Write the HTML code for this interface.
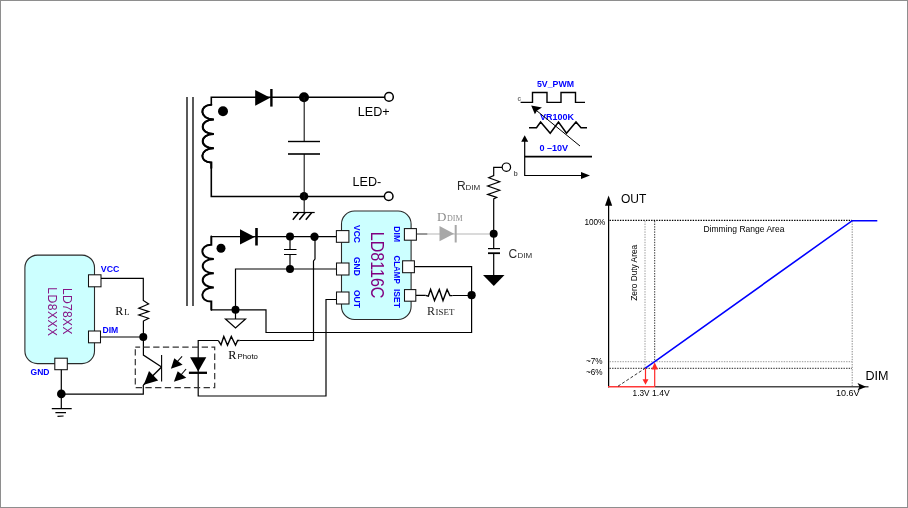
<!DOCTYPE html>
<html>
<head>
<meta charset="utf-8">
<title>LD8116C Dimming Application</title>
<style>
html,body{margin:0;padding:0;background:#fff;}
body{width:908px;height:508px;overflow:hidden;}
svg{display:block;will-change:transform;}
text{font-family:"Liberation Sans",Arial,sans-serif;}
.ser{font-family:"Liberation Serif","Times New Roman",serif;}
.w{stroke:#000;stroke-width:1.2;fill:none;}
.wt{stroke:#000;stroke-width:1.6;fill:none;}
.wc{stroke:#000;stroke-width:2;fill:none;stroke-linecap:round;}
.pin{fill:#fff;stroke:#111;stroke-width:1.05;}
.blue{fill:#0000ff;font-weight:bold;}
</style>
</head>
<body>
<svg width="908" height="508" viewBox="0 0 908 508">
<rect x="0" y="0" width="908" height="508" fill="#fff"/>
<rect x="0.5" y="0.5" width="907" height="507" fill="none" stroke="#8e8e8e" stroke-width="1"/>

<!-- ===== transformer core ===== -->
<g id="core">
<line x1="187" y1="97" x2="187" y2="306" stroke="#000" stroke-width="1.3"/>
<line x1="193" y1="97" x2="193" y2="306" stroke="#000" stroke-width="1.3"/>
</g>

<!-- ===== top secondary ===== -->
<g id="sec-top">
<path class="wt" d="M388,97.2 H211.3 V104.8 C199,104.8 199,119.5 213.9,119.5 C199,119.5 199,134 213.9,134 C199,134 199,148.3 213.9,148.3 C199,148.3 199,162.6 211.3,162.6 V196.5 H388"/>
<path class="wc" d="M211.3,104.8 C199,104.8 199,119.5 213.9,119.5 C199,119.5 199,134 213.9,134 C199,134 199,148.3 213.9,148.3 C199,148.3 199,162.6 211.3,162.6 V168"/>
<circle cx="223" cy="111.3" r="5" fill="#000"/>
<polygon points="255.2,90 255.2,105.7 270.2,97.8" fill="#000"/>
<line x1="271.4" y1="89" x2="271.4" y2="106.6" stroke="#000" stroke-width="2.4"/>
<circle cx="304" cy="97.3" r="5" fill="#000"/>
<circle cx="304" cy="196.3" r="4.3" fill="#000"/>
<line x1="304.2" y1="97" x2="304.2" y2="141.5" stroke="#111" stroke-width="1.1"/>
<line x1="304.2" y1="154" x2="304.2" y2="212.5" stroke="#111" stroke-width="1.1"/>
<line x1="288" y1="141.5" x2="320" y2="141.5" stroke="#000" stroke-width="1.4"/>
<line x1="288" y1="154" x2="320" y2="154" stroke="#000" stroke-width="1.6"/>
<circle cx="389" cy="96.9" r="4.3" fill="#fff" stroke="#000" stroke-width="1.5"/>
<circle cx="388.7" cy="196.3" r="4.3" fill="#fff" stroke="#000" stroke-width="1.5"/>
<text x="357.8" y="115.6" font-size="12.6">LED+</text>
<text x="352.6" y="186.3" font-size="12.6">LED-</text>
<!-- chassis ground -->
<path d="M293,212.5 H314.7" stroke="#000" stroke-width="1.2" fill="none"/><path d="M298.8,212.5 L292.8,219.7 M305.3,212.5 L299.3,219.7 M311.8,212.5 L305.8,219.7" stroke="#000" stroke-width="1.5" fill="none"/>
</g>

<!-- ===== lower secondary ===== -->
<g id="sec-low">
<path class="wc" d="M211.3,236.5 V244.8 C199,244.8 199,259 213.9,259 C199,259 199,273.2 213.9,273.2 C199,273.2 199,287.4 213.9,287.4 C199,287.4 199,301.6 211.3,301.6 V309.8"/>
<path class="w" d="M211,236.7 H336"/>
<circle cx="221" cy="248.3" r="4.5" fill="#000"/>
<polygon points="240,229.3 240,244.5 254.8,236.9" fill="#000"/>
<line x1="256.5" y1="228" x2="256.5" y2="245.5" stroke="#000" stroke-width="2.6"/>
<circle cx="290" cy="236.5" r="4" fill="#000"/>
<circle cx="314.5" cy="236.7" r="4.2" fill="#000"/>
<circle cx="290" cy="269" r="4" fill="#000"/>
<path class="w" d="M290,236.5 V249.5 M290,254.5 V269 M284,249.5 H296.5 M284,254.5 H296.5"/>
<!-- GND net -->
<path class="w" d="M336,269 H235.5 V309.8"/>
<path class="w" d="M211,309.8 H266 V332.5 H471.6 V266.6 H414.5"/>
<circle cx="235.5" cy="309.8" r="4" fill="#000"/>
<path class="w" d="M235.5,309.8 V319 M225.5,319 H245.5 L235.5,328 Z" fill="#fff"/>
<!-- VCC -> Rphoto -> LED -->
<path class="w" d="M315,236.5 V259 L313.5,261 V340.5 H239.6 M218.3,340.5 H198.2 V396 H326 V299.5 H336"/>
<path d="M239.6,340.5 H237.6 L235.5,345.2 L231.3,336.5 L227.5,345.2 L223.8,336.5 L221,344.8 L218.3,340.5" fill="none" stroke="#000" stroke-width="1.4" stroke-linejoin="miter"/>
<text class="ser" x="228.2" y="358.6" font-size="12.2">R</text>
<text x="237.5" y="358.6" font-size="8.1" textLength="20.4" lengthAdjust="spacingAndGlyphs">Photo</text>
</g>

<!-- ===== LD8116C ===== -->
<g id="ic2">
<rect x="341.5" y="211" width="69.6" height="108.5" rx="13" ry="13" fill="#ccffff" stroke="#2a2a2a" stroke-width="1.1"/>
<rect class="pin" x="336.4" y="230.6" width="12.5" height="11.7"/>
<rect class="pin" x="336.5" y="263" width="12.5" height="12"/>
<rect class="pin" x="336.5" y="292" width="12.5" height="12"/>
<rect class="pin" x="404.4" y="228.6" width="12" height="11.6"/>
<rect class="pin" x="402.6" y="260.8" width="11.8" height="11.9"/>
<rect class="pin" x="404.5" y="289.6" width="11.3" height="11.6"/>
<text transform="translate(370.7,231.7) rotate(90) scale(0.92,1)" font-size="17.5" fill="#800080">LD8116C</text>
<text class="blue" transform="translate(353.5,225) rotate(90)" font-size="8.5">VCC</text>
<text class="blue" transform="translate(353.5,257) rotate(90)" font-size="8.5">GND</text>
<text class="blue" transform="translate(353.5,290) rotate(90)" font-size="8.5">OUT</text>
<text class="blue" transform="translate(393.5,226.3) rotate(90)" font-size="8.5" textLength="15.8" lengthAdjust="spacingAndGlyphs">DIM</text>
<text class="blue" transform="translate(393.5,255.4) rotate(90)" font-size="8.5" textLength="28.4" lengthAdjust="spacingAndGlyphs">CLAMP</text>
<text class="blue" transform="translate(393.5,289) rotate(90)" font-size="8.5">ISET</text>
</g>

<!-- ===== right of IC ===== -->
<g id="dimnet">
<line x1="417" y1="234" x2="427.5" y2="234" stroke="#333" stroke-width="1"/>
<line x1="427.5" y1="234" x2="493" y2="234" stroke="#b5b5b5" stroke-width="1"/>
<polygon points="439.5,226 439.5,241.3 454,233.8" fill="#a8a8a8"/>
<line x1="455.7" y1="225" x2="455.7" y2="242.5" stroke="#a8a8a8" stroke-width="2"/>
<text class="ser" x="437" y="220.5" font-size="13" fill="#8c8c8c">D</text>
<text class="ser" x="447" y="220.5" font-size="8" fill="#8c8c8c">DIM</text>
<!-- ISET resistor -->
<path class="w" d="M416,295.3 H425.5 M452.4,295.5 H471.8"/>
<path d="M425.5,295.4 L428.3,296.2 L430.6,289.5 L434.5,300.6 L439.3,289.5 L443,300.6 L447.1,289.5 L449.9,295.6 H452.4" fill="none" stroke="#000" stroke-width="1.4"/>
<circle cx="471.6" cy="295.2" r="4.1" fill="#000"/>
<text class="ser" fill="#222" x="426.9" y="314.7" font-size="12">R</text>
<text class="ser" fill="#222" x="435.6" y="314.7" font-size="9" textLength="18.8" lengthAdjust="spacingAndGlyphs">ISET</text>
<!-- RDIM column -->
<path class="w" d="M502,167.3 H493.7 V175.5 l-5,2.3 l11,4 l-12,4.2 l12,4.2 l-12,4.2 l9,3 l-3,1.5 V248.7 M493.7,253.3 V275"/>
<circle cx="506.4" cy="167.2" r="4.2" fill="#fff" stroke="#000" stroke-width="1.2"/>
<circle cx="493.7" cy="233.8" r="4" fill="#000"/>
<path d="M488,248.6 H500" stroke="#000" stroke-width="1.2"/><path d="M488,253.2 H500" stroke="#000" stroke-width="1.8"/>
<polygon points="483,275 504.5,275 493.8,286" fill="#000"/>
<text fill="#2a2a2a" x="457" y="189.7" font-size="12">R</text>
<text fill="#2a2a2a" x="465.5" y="189.7" font-size="8">DIM</text>
<text fill="#2a2a2a" x="508.5" y="258" font-size="12">C</text>
<text fill="#2a2a2a" x="517.5" y="258" font-size="8">DIM</text>
</g>

<!-- ===== PWM / VR / 0-10V ===== -->
<g id="src">
<text class="blue" x="537" y="87.3" font-size="8.5" textLength="37" lengthAdjust="spacingAndGlyphs">5V_PWM</text>
<path d="M520.6,102.4 H532.5 V92.5 H547 V102.4 H561 V92.5 H575.5 V102.4 H585" fill="none" stroke="#000" stroke-width="1.4"/>
<text x="517.6" y="100.8" font-size="6.5" font-weight="bold" fill="#777">c</text>
<text class="blue" x="540" y="120.2" font-size="8.5" textLength="34" lengthAdjust="spacingAndGlyphs">VR100K</text>
<path d="M529,127.8 H536.5 L540.6,122 L550.2,133.2 L558.5,122 L566.5,133.2 L576,122 L581,127.8 H587" fill="none" stroke="#000" stroke-width="1.5"/>
<line x1="580" y1="146" x2="534" y2="108.5" stroke="#000" stroke-width="1"/>
<polygon points="531.2,105.6 542,107.6 537.2,110.4 534.9,114.3" fill="#000"/>
<text class="blue" x="539.4" y="150.8" font-size="8.5" textLength="28.8" lengthAdjust="spacingAndGlyphs">0 –10V</text>
<path d="M524.7,140 V175.5 H583" fill="none" stroke="#000" stroke-width="1.2"/>
<polygon points="524.7,135.3 521.2,141.8 528.2,141.8" fill="#000"/>
<polygon points="590,175.5 581,172 581,179" fill="#000"/>
<line x1="524.7" y1="156.7" x2="592" y2="156.7" stroke="#000" stroke-width="1.8"/>
<text x="513.4" y="175.6" font-size="7" font-weight="bold" fill="#666">b</text>
</g>

<!-- ===== LD78XX ===== -->
<g id="ic1">
<rect x="24.9" y="255.1" width="69.6" height="108.5" rx="12.5" ry="12.5" fill="#ccffff" stroke="#2a2a2a" stroke-width="1.1"/>
<rect class="pin" x="88.5" y="274.8" width="12.5" height="12"/>
<rect class="pin" x="88.5" y="331" width="12" height="11.8"/>
<rect class="pin" x="54.8" y="358.2" width="12.5" height="11.5"/>
<text transform="translate(62.8,288) rotate(90) scale(0.9,1)" font-size="13.5" fill="#861686" letter-spacing="0.3">LD78XX</text>
<text transform="translate(47.8,287.3) rotate(90) scale(0.9,1)" font-size="13.5" fill="#861686" letter-spacing="0.5">LD8XXX</text>
<text class="blue" x="100.8" y="272.4" font-size="8.5" textLength="18.6" lengthAdjust="spacingAndGlyphs">VCC</text>
<text class="blue" x="102.5" y="333.4" font-size="8.5" textLength="15.8" lengthAdjust="spacingAndGlyphs">DIM</text>
<text class="blue" x="30.5" y="374.9" font-size="8.5" textLength="19" lengthAdjust="spacingAndGlyphs">GND</text>
<path class="w" d="M101,278.3 H143.3 V300.5 L148.6,304 L138.8,308.2 L148.8,311.6 L138.8,315 L148.6,318.3 L143.4,321 V355.1 L161.6,367.1"/>
<path class="w" d="M100.5,337 H143.3"/>
<circle cx="143.3" cy="337" r="4" fill="#000"/>
<text class="ser" x="115.2" y="314.9" font-size="12">R</text>
<text class="ser" x="124.2" y="314.9" font-size="8.5">L</text>
<path class="w" d="M61.3,369.7 V408.6 M61.3,394.2 H143.3 V385"/>
<circle cx="61.3" cy="393.9" r="4.3" fill="#000"/>
<path class="w" d="M51.8,408.6 H71.7 M55.4,412.6 H66 M57.5,416.3 L63.6,416"/>
</g>

<!-- ===== optocoupler ===== -->
<g id="opto">
<path d="M135.3,347.2 H214.7 V387.6 H135.3 Z" fill="none" stroke="#333" stroke-width="1.2" stroke-dasharray="6.3,3.4" stroke-dashoffset="1.5"/>
<line x1="161.6" y1="355" x2="161.6" y2="381.4" stroke="#000" stroke-width="1.1"/>
<line x1="161.6" y1="367.1" x2="143.4" y2="385" stroke="#000" stroke-width="1.4"/>
<polygon points="143.8,384.8 149,371 158.2,380.6" fill="#000"/>
<line x1="182.1" y1="356.3" x2="176" y2="363" stroke="#000" stroke-width="1.1"/>
<polygon points="170.9,368.8 174.3,358.3 182.6,364.8" fill="#000"/>
<line x1="186.1" y1="369" x2="180" y2="376" stroke="#000" stroke-width="1.1"/>
<polygon points="173.9,381.7 177.7,371.3 186.3,377.7" fill="#000"/>
<polygon points="190.1,357.3 206.3,357.3 198.2,371.5" fill="#000"/>
<line x1="188.9" y1="372.8" x2="207" y2="372.8" stroke="#000" stroke-width="2.3"/>
</g>

<!-- ===== graph ===== -->
<g id="graph">
<line x1="608.6" y1="204" x2="608.6" y2="387.4" stroke="#000" stroke-width="1.25"/>
<polygon points="608.6,195.5 605,205.8 612.2,205.8" fill="#000"/>
<text x="621" y="202.8" font-size="12">OUT</text>
<line x1="608" y1="386.7" x2="654.7" y2="386.7" stroke="#ff3838" stroke-width="1.4"/>
<line x1="654.7" y1="386.7" x2="868.5" y2="386.7" stroke="#4a4a4a" stroke-width="1.5"/>
<polygon points="866,386.7 857.5,383 859.5,386.7 857.5,390.4" fill="#000"/>
<text x="865.5" y="379.6" font-size="12" textLength="23" lengthAdjust="spacingAndGlyphs">DIM</text>
<line x1="609.5" y1="220.4" x2="852" y2="220.4" stroke="#000" stroke-width="1.1" stroke-dasharray="1.4,1.2"/>
<line x1="645" y1="221" x2="645" y2="368" stroke="#9a9a9a" stroke-width="1" stroke-dasharray="1.4,1.2"/>
<line x1="654.7" y1="221" x2="654.7" y2="362" stroke="#333" stroke-width="1" stroke-dasharray="1.4,1.2"/>
<line x1="852.2" y1="221" x2="852.2" y2="386" stroke="#8a8a8a" stroke-width="1" stroke-dasharray="1.4,1.2"/>
<line x1="609.5" y1="361.7" x2="852" y2="361.7" stroke="#999" stroke-width="1" stroke-dasharray="1.4,1.2"/>
<line x1="609.5" y1="368.3" x2="852" y2="368.3" stroke="#222" stroke-width="1" stroke-dasharray="1.4,1.2"/>
<line x1="618" y1="386.2" x2="645" y2="368.4" stroke="#000" stroke-width="0.8" stroke-dasharray="3,2"/>
<path d="M645,368.3 L654.7,361.7 L852.2,220.7 H877.3" fill="none" stroke="#0000ff" stroke-width="1.6"/>
<line x1="645.5" y1="368.4" x2="645.5" y2="381" stroke="#ff2828" stroke-width="1.2"/>
<polygon points="645.5,384.8 642.5,379.2 648.5,379.2" fill="#ff2828"/>
<line x1="654.7" y1="386.7" x2="654.7" y2="366" stroke="#ff2828" stroke-width="1.2"/>
<polygon points="654.7,362.2 651.5,369.5 657.9,369.5" fill="#ff2828"/>
<text x="605.4" y="224.8" font-size="8.2" text-anchor="end">100%</text>
<text x="602.6" y="364.1" font-size="8.2" text-anchor="end">~7%</text>
<text x="602.6" y="375.3" font-size="8.2" text-anchor="end">~6%</text>
<text x="703.4" y="232.2" font-size="9.2" textLength="81" lengthAdjust="spacingAndGlyphs">Dimming Range Area</text>
<text transform="translate(637.2,300.8) rotate(-90)" font-size="9.2" textLength="56" lengthAdjust="spacingAndGlyphs">Zero Duty Area</text>
<text x="632.6" y="395.6" font-size="8.6" textLength="17" lengthAdjust="spacingAndGlyphs">1.3V</text>
<text x="652" y="395.6" font-size="8.6">1.4V</text>
<text x="836" y="395.6" font-size="8.6" textLength="23.6" lengthAdjust="spacingAndGlyphs">10.6V</text>
</g>
</svg>
</body>
</html>
